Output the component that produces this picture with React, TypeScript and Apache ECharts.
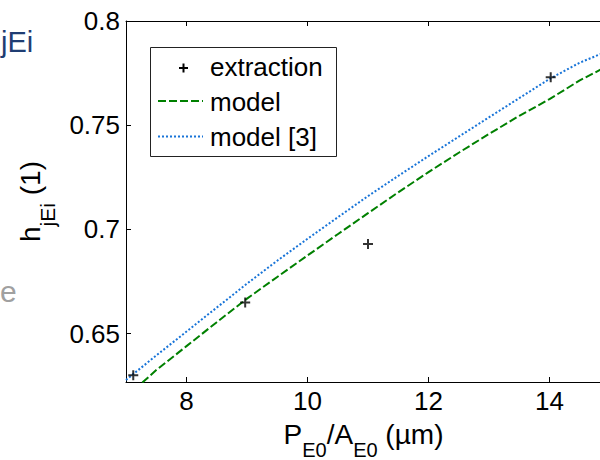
import React, { useEffect, useRef } from "react";
import * as echarts from "echarts";

const xTicks = [8, 10, 12, 14];
const yTicks = [0.65, 0.7, 0.75, 0.8];
const curveX = [7.0, 7.5, 8.0, 8.5, 9.0, 9.5, 10.0, 10.5, 11.0, 11.5, 12.0, 12.5, 13.0, 13.5, 14.0, 14.5, 15.0];
const modelY = [0.6195, 0.6325, 0.644, 0.6555, 0.6668, 0.6772, 0.6875, 0.6977, 0.7078, 0.7178, 0.7275, 0.7368, 0.7458, 0.7545, 0.7625, 0.7715, 0.779];
const model3Y = [0.6278, 0.6395, 0.651, 0.6625, 0.674, 0.685, 0.6955, 0.7058, 0.716, 0.7257, 0.7352, 0.7445, 0.7538, 0.763, 0.7722, 0.78, 0.786];
const extractionX = [7.12, 8.97, 11.0, 14.02];
const extractionY = [0.63, 0.665, 0.693, 0.773];
const legendLabels = ["extraction", "model", "model [3]"];

const FONT = "'Liberation Sans', Arial, Helvetica, sans-serif";
const GREEN = "#008000";
const BLUE = "#1874D8";
const PLUS = "path://M4,0L6,0L6,4L10,4L10,6L6,6L6,10L4,10L4,6L0,6L0,4L4,4Z";

export default function App() {
  const ref = useRef<HTMLDivElement>(null);

  useEffect(() => {
    if (!ref.current) return;
    const chart = echarts.init(ref.current, null, { renderer: "svg" });
    const axisLine = { show: true, onZero: false, lineStyle: { color: "#000", width: 1 } };
    const tick = (vals: number[]) => ({
      show: true,
      inside: true,
      length: 5,
      customValues: vals,
      lineStyle: { color: "#000", width: 1 },
    });
    const rowY = [66.5, 101.5, 136.5];
    const option: any = {
      animation: false,
      backgroundColor: "#fff",
      grid: { left: 126, top: 21, width: 484, bottom: 78, containLabel: false, outerBoundsMode: "none" },
      xAxis: [
        {
          type: "value",
          min: 7,
          max: 15,
          position: "bottom",
          axisLine,
          axisTick: tick(xTicks),
          axisLabel: { show: true, customValues: xTicks, margin: 6, color: "#000", fontSize: 26, fontFamily: FONT },
          splitLine: { show: false },
          name: "{a|P}{s|E0}{a|/A}{s|E0}{a| (µm)}",
          nameLocation: "middle",
          nameGap: 38,
          nameTextStyle: {
            padding: [0, 9, 0, 0],
            rich: {
              a: { fontSize: 28, fontFamily: FONT, color: "#000", verticalAlign: "top", lineHeight: 28 },
              s: { fontSize: 20, fontFamily: FONT, color: "#000", verticalAlign: "top", lineHeight: 19, padding: [20, 0, 0, 0] },
            },
          },
        },
        {
          type: "value",
          min: 7,
          max: 15,
          position: "top",
          axisLine,
          axisTick: tick(xTicks),
          axisLabel: { show: false },
          splitLine: { show: false },
        },
      ],
      yAxis: [
        {
          type: "value",
          min: 0.6268,
          max: 0.8,
          position: "left",
          axisLine,
          axisTick: tick(yTicks),
          axisLabel: {
            show: true,
            customValues: yTicks,
            margin: 6,
            color: "#000",
            fontSize: 26,
            fontFamily: FONT,
            formatter: (v: number) => String(Number(v.toFixed(2))),
          },
          splitLine: { show: false },
          name: "{a|h}{s|jEi}{a| (1)}",
          nameLocation: "middle",
          nameGap: 58,
          nameTextStyle: {
            rich: {
              a: { fontSize: 28, fontFamily: FONT, color: "#000", verticalAlign: "top", lineHeight: 28 },
              s: { fontSize: 21, fontFamily: FONT, color: "#000", verticalAlign: "top", lineHeight: 21, padding: [21, 0, 0, 0] },
            },
          },
        },
      ],
      series: [
        {
          name: "extraction",
          type: "scatter",
          data: extractionX.map((x, i) => [x, extractionY[i]]),
          symbol: PLUS,
          symbolSize: 10,
          itemStyle: { color: "#000" },
          z: 5,
        },
        {
          name: "model",
          type: "line",
          data: curveX.map((x, i) => [x, modelY[i]]),
          showSymbol: false,
          smooth: false,
          clip: true,
          lineStyle: { color: GREEN, width: 2, type: [8, 3] },
        },
        {
          name: "model [3]",
          type: "line",
          data: curveX.map((x, i) => [x, model3Y[i]]),
          showSymbol: false,
          smooth: false,
          clip: true,
          lineStyle: { color: BLUE, width: 2, type: [2, 2] },
        },
      ],
      graphic: [
        {
          type: "text",
          left: 1,
          top: 27,
          style: { text: "jEi", font: `29px ${FONT}`, fill: "#1F3D73" },
        },
        {
          type: "text",
          left: 0,
          top: 276,
          style: { text: "e", font: `30px ${FONT}`, fill: "#A0A0A0" },
        },
        {
          type: "group",
          z: 100,
          children: [
            {
              type: "rect",
              shape: { x: 150.5, y: 47.5, width: 186, height: 109 },
              style: { fill: "#fff", stroke: "#222", lineWidth: 1 },
            },
            {
              type: "line",
              shape: { x1: 179, y1: 68, x2: 188, y2: 68 },
              style: { stroke: "#000", lineWidth: 2 },
            },
            {
              type: "line",
              shape: { x1: 183.5, y1: 63.5, x2: 183.5, y2: 72.5 },
              style: { stroke: "#000", lineWidth: 2 },
            },
            {
              type: "line",
              shape: { x1: 158, y1: 101, x2: 203, y2: 101 },
              style: { stroke: GREEN, lineWidth: 2, lineDash: [8, 3] },
            },
            {
              type: "line",
              shape: { x1: 158, y1: 136.5, x2: 203, y2: 136.5 },
              style: { stroke: BLUE, lineWidth: 2, lineDash: [2, 2] },
            },
            ...legendLabels.map((t, i) => ({
              type: "text",
              x: 210,
              y: rowY[i],
              style: { text: t, font: `26px ${FONT}`, fill: "#000", verticalAlign: "middle", align: "left" },
            })),
          ],
        },
      ],
    };
    chart.setOption(option);
    return () => chart.dispose();
  }, []);

  return (
    <div
      ref={ref}
      style={{ position: "fixed", left: 0, top: 0, width: 600, height: 460, overflow: "hidden", background: "#fff" }}
    />
  );
}
